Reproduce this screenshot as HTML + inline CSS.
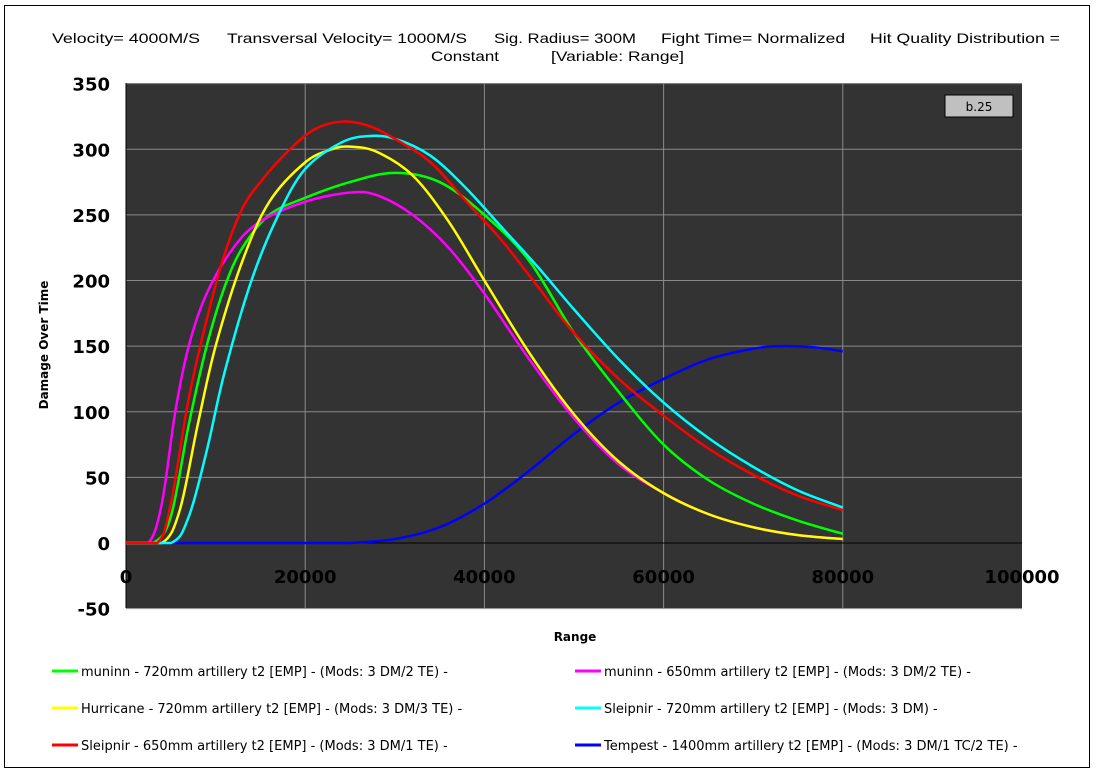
<!DOCTYPE html>
<html><head><meta charset="utf-8"><style>
html,body{margin:0;padding:0;background:#fff;}
svg{display:block;font-family:"DejaVu Sans","Liberation Sans",sans-serif;}
</style></head><body>
<svg id="s" width="1096" height="773" viewBox="0 0 1096 773">
<rect x="0" y="0" width="1096" height="773" fill="#fff"/>
<rect x="4.5" y="5.5" width="1085" height="762" fill="none" stroke="#000" stroke-width="1"/>
<g font-size="14" font-family="Liberation Sans,sans-serif">
<text x="52" y="43" textLength="148" lengthAdjust="spacingAndGlyphs">Velocity= 4000M/S</text>
<text x="227" y="43" textLength="240" lengthAdjust="spacingAndGlyphs">Transversal Velocity= 1000M/S</text>
<text x="494" y="43" textLength="142" lengthAdjust="spacingAndGlyphs">Sig. Radius= 300M</text>
<text x="661" y="43" textLength="184" lengthAdjust="spacingAndGlyphs">Fight Time= Normalized</text>
<text x="870" y="43" textLength="190" lengthAdjust="spacingAndGlyphs">Hit Quality Distribution =</text>
<text x="431" y="61" textLength="68" lengthAdjust="spacingAndGlyphs">Constant</text>
<text x="551" y="61" textLength="133" lengthAdjust="spacingAndGlyphs">[Variable: Range]</text>
</g>
<rect x="126" y="83" width="896" height="525" fill="#333333"/>
<g id="grid" stroke="#8a8a8a" stroke-width="1"></g>
<line x1="126" y1="543" x2="1022" y2="543" stroke="#000" stroke-width="1"/>
<line x1="126" y1="83" x2="126" y2="608" stroke="#000" stroke-width="1"/>
<g id="ticks" font-weight="bold" font-size="18"></g>
<rect x="945" y="95" width="68" height="22" fill="#c0c0c0" stroke="#000" stroke-width="1"/>
<text x="979" y="111" font-size="12" text-anchor="middle">b.25</text>
<g id="series" fill="none" stroke-width="2.5" stroke-linejoin="round"></g>
<text transform="translate(48,345) rotate(-90)" font-size="12" text-anchor="middle" font-weight="bold">Damage Over Time</text>
<text x="575" y="641" font-size="12" text-anchor="middle" font-weight="bold">Range</text>
<g font-size="13">
<line x1="52" y1="671" x2="78" y2="671" stroke="#00ff00" stroke-width="3"/><text x="81" y="676">muninn - 720mm artillery t2 [EMP] - (Mods: 3 DM/2 TE) -</text>
<line x1="52" y1="708" x2="78" y2="708" stroke="#ffff00" stroke-width="3"/><text x="81" y="713">Hurricane - 720mm artillery t2 [EMP] - (Mods: 3 DM/3 TE) -</text>
<line x1="52" y1="745" x2="78" y2="745" stroke="#ff0000" stroke-width="3"/><text x="81" y="750">Sleipnir - 650mm artillery t2 [EMP] - (Mods: 3 DM/1 TE) -</text>
<line x1="575" y1="671" x2="601" y2="671" stroke="#ff00ff" stroke-width="3"/><text x="604" y="676">muninn - 650mm artillery t2 [EMP] - (Mods: 3 DM/2 TE) -</text>
<line x1="575" y1="708" x2="601" y2="708" stroke="#00ffff" stroke-width="3"/><text x="604" y="713">Sleipnir - 720mm artillery t2 [EMP] - (Mods: 3 DM) -</text>
<line x1="575" y1="745" x2="601" y2="745" stroke="#0000ff" stroke-width="3"/><text x="604" y="750">Tempest - 1400mm artillery t2 [EMP] - (Mods: 3 DM/1 TC/2 TE) -</text>
</g>
</svg>
<script>
var NS="http://www.w3.org/2000/svg";
function X(v){return 126+v*0.00896;}function Y(v){return 543-v*1.3125;}
function el(p,n,a,t){var e=document.createElementNS(NS,n);for(var k in a)e.setAttribute(k,a[k]);if(t!==undefined)e.textContent=t;document.getElementById(p).appendChild(e);}
for(var v=20000;v<100000;v+=20000)el("grid","line",{x1:X(v),y1:83,x2:X(v),y2:608});
for(var v=-50;v<=350;v+=50){if(v!=0)el("grid","line",{x1:126,y1:Y(v),x2:1022,y2:Y(v)});}
for(var v=-50;v<=350;v+=50)el("ticks","text",{x:110,y:Y(v)+7,"text-anchor":"end"},String(v));
for(var v=0;v<=100000;v+=20000)el("ticks","text",{x:X(v),y:583,"text-anchor":"middle"},String(v));
var S={
"#0000ff":[[0,0],[20000,0],[25000,0],[30000,3],[35000,12],[40000,30],[45000,55],[50000,83],[55000,107],[60000,125],[65000,140],[70000,148],[73000,150],[77000,149],[80000,146]],
"#00ff00":[[0,0],[3000,0],[5000,20],[7000,90],[9000,150],[11000,195],[13000,225],[16000,250],[20000,263],[25000,275],[30000,282],[35000,275],[40000,250],[45000,215],[50000,160],[55000,115],[60000,75],[65000,48],[70000,30],[75000,17],[80000,7]],
"#ff00ff":[[0,0],[2500,0],[4000,30],[5500,100],[7000,150],[9000,190],[12000,225],[15000,245],[20000,260],[25000,267],[28000,265],[32000,250],[36000,225],[40000,190],[45000,140],[50000,95],[55000,60],[60000,38],[65000,22],[70000,12],[75000,6],[80000,3]],
"#ffff00":[[0,0],[4000,0],[6000,25],[8000,90],[10000,150],[13000,215],[16000,260],[20000,290],[23000,300],[25000,302],[28000,298],[32000,280],[36000,245],[40000,200],[45000,145],[50000,98],[55000,62],[60000,38],[65000,22],[70000,12],[75000,6],[80000,3]],
"#00ffff":[[0,0],[5000,0],[7000,20],[9000,70],[11000,130],[14000,200],[17000,250],[20000,285],[24000,305],[27000,310],[30000,308],[34000,295],[38000,270],[42000,240],[46000,210],[50000,178],[55000,140],[60000,107],[65000,80],[70000,58],[75000,40],[80000,27]],
"#ff0000":[[0,0],[3500,0],[5000,30],[7000,110],[9000,170],[11000,220],[13000,255],[15000,275],[18000,298],[21000,315],[24000,321],[27000,318],[30000,308],[34000,290],[38000,260],[42000,230],[46000,195],[50000,160],[55000,125],[60000,97],[65000,72],[70000,52],[75000,36],[80000,25]]
};
for(var c in S){var p=S[c].map(function(q){return [X(q[0]),Y(q[1])];});
var d="M"+p[0][0]+","+p[0][1];
for(var i=0;i<p.length-1;i++){var p0=p[Math.max(0,i-1)],p1=p[i],p2=p[i+1],p3=p[Math.min(p.length-1,i+2)];
d+=" C"+(p1[0]+(p2[0]-p0[0])/6)+","+Math.min(543,p1[1]+(p2[1]-p0[1])/6)+" "+(p2[0]-(p3[0]-p1[0])/6)+","+Math.min(543,p2[1]-(p3[1]-p1[1])/6)+" "+p2[0]+","+p2[1];}
el("series","path",{d:d,stroke:c});}
</script>
</body></html>
